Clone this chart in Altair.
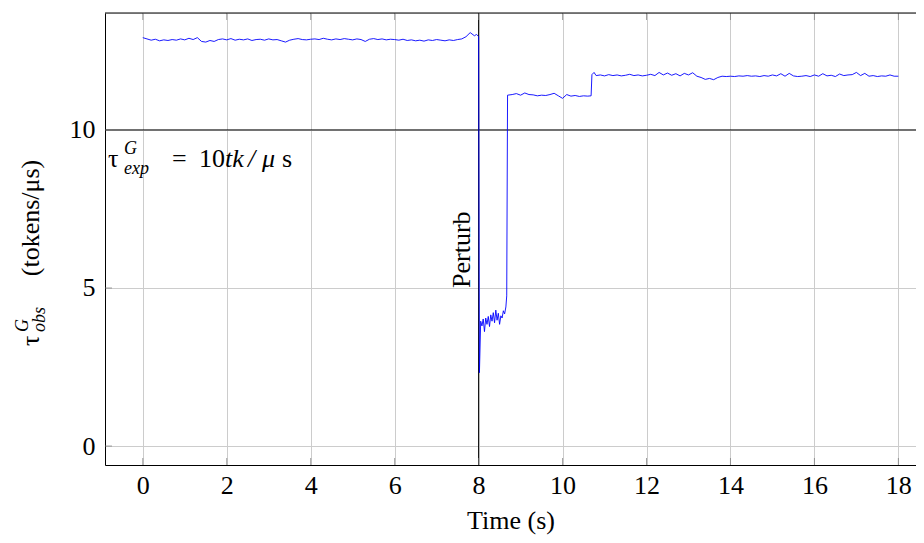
import altair as alt
import pandas as pd

# ---------------- data ----------------
time_s = [
    0.0, 0.1, 0.2, 0.3, 0.4, 0.5, 0.6, 0.7, 0.8, 0.9,
    1.0, 1.1, 1.2, 1.3, 1.4, 1.5, 1.6, 1.7, 1.8, 1.9,
    2.0, 2.1, 2.2, 2.3, 2.4, 2.5, 2.6, 2.7, 2.8, 2.9,
    3.0, 3.1, 3.2, 3.3, 3.4, 3.5, 3.6, 3.7, 3.8, 3.9,
    4.0, 4.1, 4.2, 4.3, 4.4, 4.5, 4.6, 4.7, 4.8, 4.9,
    5.0, 5.1, 5.2, 5.3, 5.4, 5.5, 5.6, 5.7, 5.8, 5.9,
    6.0, 6.1, 6.2, 6.3, 6.4, 6.5, 6.6, 6.7, 6.8, 6.9,
    7.0, 7.1, 7.2, 7.3, 7.4, 7.5, 7.6, 7.7, 7.8, 7.9,
    7.95, 8.0,
    8.02, 8.05, 8.08, 8.11, 8.14, 8.17, 8.20, 8.23, 8.26, 8.29,
    8.32, 8.35, 8.38, 8.41, 8.44, 8.47, 8.50, 8.53, 8.56, 8.59,
    8.62, 8.65, 8.67, 8.69,
    8.8, 8.9, 9.0, 9.1, 9.2, 9.3, 9.4, 9.5, 9.6, 9.7,
    9.8, 9.9, 10.0, 10.1, 10.2, 10.3, 10.4, 10.5, 10.6, 10.68,
    10.70, 10.75, 10.8, 10.9,
    11.0, 11.1, 11.2, 11.3, 11.4, 11.5, 11.6, 11.7, 11.8, 11.9,
    12.0, 12.1, 12.2, 12.3, 12.4, 12.5, 12.6, 12.7, 12.8, 12.9,
    13.0, 13.1, 13.2, 13.3, 13.4, 13.5, 13.6, 13.7, 13.8, 13.9,
    14.0, 14.1, 14.2, 14.3, 14.4, 14.5, 14.6, 14.7, 14.8, 14.9,
    15.0, 15.1, 15.2, 15.3, 15.4, 15.5, 15.6, 15.7, 15.8, 15.9,
    16.0, 16.1, 16.2, 16.3, 16.4, 16.5, 16.6, 16.7, 16.8, 16.9,
    17.0, 17.1, 17.2, 17.3, 17.4, 17.5, 17.6, 17.7, 17.8, 17.9,
    18.0,
]

tau_obs = [
    12.92, 12.88, 12.84, 12.87, 12.82, 12.85, 12.83, 12.86, 12.84, 12.88,
    12.85, 12.90, 12.86, 12.92, 12.80, 12.78, 12.83, 12.80, 12.86, 12.88,
    12.85, 12.89, 12.84, 12.87, 12.85, 12.88, 12.83, 12.86, 12.87, 12.84,
    12.88, 12.85, 12.86, 12.82, 12.78, 12.84, 12.87, 12.89, 12.86, 12.85,
    12.87, 12.88, 12.86, 12.90, 12.87, 12.85, 12.88, 12.86, 12.89, 12.87,
    12.85, 12.88, 12.86, 12.80, 12.87, 12.89, 12.86, 12.88, 12.85, 12.87,
    12.86, 12.84, 12.87, 12.83, 12.85, 12.82, 12.84, 12.81, 12.85, 12.83,
    12.86, 12.84, 12.82, 12.85, 12.83, 12.86, 12.88, 12.95, 13.08, 12.98,
    13.02, 12.96,
    2.32, 3.95, 3.80, 4.02, 3.62, 4.05, 3.85, 4.10, 3.78, 4.15,
    3.95, 4.22, 3.90, 4.30, 3.98, 4.20, 3.85, 4.12, 4.05, 4.28,
    4.18, 4.40, 4.75, 11.10,
    11.12, 11.15, 11.10, 11.17, 11.12, 11.11, 11.08, 11.10, 11.09, 11.12,
    11.16, 11.08, 11.00, 11.12, 11.07, 11.09, 11.06, 11.08, 11.07, 11.08,
    11.75, 11.82, 11.72, 11.74,
    11.71, 11.75, 11.72, 11.74, 11.71, 11.73, 11.76, 11.72, 11.74, 11.71,
    11.73, 11.76, 11.72, 11.82, 11.74, 11.80, 11.73, 11.78, 11.71, 11.79,
    11.74, 11.81, 11.70, 11.66, 11.60, 11.63, 11.59, 11.66, 11.70, 11.69,
    11.70, 11.69, 11.71, 11.70, 11.72, 11.70, 11.71, 11.69, 11.72, 11.70,
    11.74, 11.71, 11.78, 11.70, 11.79, 11.71, 11.69, 11.70, 11.72, 11.69,
    11.74, 11.70, 11.78, 11.71, 11.73, 11.69, 11.77, 11.72, 11.74, 11.75,
    11.82, 11.72, 11.79, 11.70, 11.72, 11.69, 11.71, 11.70, 11.74, 11.70,
    11.70,
]

x_ticks = [0, 2, 4, 6, 8, 10, 12, 14, 16, 18]
y_ticks = [0, 5, 10]
tau_expected = [10]
perturb_time = [8]

FONT = "Liberation Serif, DejaVu Serif, serif"
FS = 26
df = pd.DataFrame({"t": time_s, "tau": tau_obs})

x_scale = alt.Scale(domain=[-0.9, 18.42], nice=False, zero=False)
y_scale = alt.Scale(domain=[-0.6, 13.7], nice=False, zero=False)

x_axis = alt.Axis(values=x_ticks, title="Time (s)", grid=True, gridColor="#cccccc",
                  ticks=False, domainColor="black", labelFont=FONT, labelFontSize=FS,
                  labelColor="black", labelPadding=7, titleFont=FONT, titleFontSize=FS,
                  titleFontWeight="normal", titleColor="black", titlePadding=9,
                  labelFlush=False)
y_axis = alt.Axis(values=y_ticks, title=None, grid=True, gridColor="#cccccc",
                  ticks=False, domainColor="black", labelFont=FONT, labelFontSize=FS,
                  labelColor="black", labelPadding=10, labelFlush=False,
                  labelBaseline="middle")

line = alt.Chart(df).mark_line(color="#0000ff", strokeWidth=0.9).encode(
    x=alt.X("t:Q", scale=x_scale, axis=x_axis),
    y=alt.Y("tau:Q", scale=y_scale, axis=y_axis),
)

hline = alt.Chart(pd.DataFrame({"tau": tau_expected})).mark_rule(
    color="black", strokeWidth=1).encode(
    y=alt.Y("tau:Q", scale=y_scale, axis=y_axis))

vline = alt.Chart(pd.DataFrame({"t": perturb_time})).mark_rule(
    color="black", strokeWidth=1).encode(
    x=alt.X("t:Q", scale=x_scale, axis=x_axis))

top_frame = alt.Chart(pd.DataFrame({"a": [0]})).mark_rule(
    color="black", strokeWidth=1).encode(y=alt.value(0))

# pgfplots-style inner tick marks
xt_df = pd.DataFrame({"t": x_ticks})
yt_df = pd.DataFrame({"tau": y_ticks})
xticks_bottom = alt.Chart(xt_df).mark_tick(
    orient="vertical", color="#777777", size=7, thickness=1).encode(
    x=alt.X("t:Q", scale=x_scale, axis=x_axis), y=alt.value(448.5))
xticks_top = alt.Chart(xt_df).mark_tick(
    orient="vertical", color="#777777", size=7, thickness=1).encode(
    x=alt.X("t:Q", scale=x_scale, axis=x_axis), y=alt.value(3.5))
yticks_left = alt.Chart(yt_df).mark_tick(
    orient="horizontal", color="#777777", size=7, thickness=1).encode(
    y=alt.Y("tau:Q", scale=y_scale, axis=y_axis), x=alt.value(3.5))

one = pd.DataFrame({"a": [0]})


def label(text, x, y, size=FS, italic=False, angle=0, align="left", baseline="alphabetic"):
    kw = dict(text=text, font=FONT, fontSize=size, color="black", align=align,
              baseline=baseline)
    if italic:
        kw["fontStyle"] = "italic"
    if angle:
        kw["angle"] = angle
    return alt.Chart(one).mark_text(**kw).encode(x=alt.value(x), y=alt.value(y))


perturb = alt.Chart(pd.DataFrame({"t": perturb_time, "tau": [5]})).mark_text(
    text="Perturb", font=FONT, fontSize=FS, color="black", angle=270,
    align="left", baseline="alphabetic", dy=-9).encode(
    x=alt.X("t:Q", scale=x_scale, axis=x_axis),
    y=alt.Y("tau:Q", scale=y_scale, axis=y_axis))

# annotation tau^G_exp = 10 tk/us
ann = [
    label("τ", 3, 154),
    label("G", 19, 141, size=18, italic=True),
    label("exp", 19, 161, size=18, italic=True),
    label("=", 67, 154),
    label("10", 94, 154),
    label("tk", 120, 154, italic=True),
    label("/", 143, 154, italic=True),
    label("μ", 157, 154, italic=True),
    label("s", 177, 154),
]

# y-axis title tau^G_obs (tokens/us), rotated
ytitle = [
    label("τ", -66, 333, angle=270),
    label("G", -77, 319, size=18, italic=True, angle=270),
    label("obs", -60, 319, size=18, italic=True, angle=270),
    label("(tokens/μs)", -66, 205, angle=270, align="center"),
]

chart = alt.layer(hline, vline, xticks_bottom, xticks_top, yticks_left, line,
                  top_frame, perturb, *ann, *ytitle).properties(
    width=811, height=452,
    autosize=alt.AutoSizeParams(type="none"),
    padding={"left": 97, "top": 5, "right": 0, "bottom": 75},
).configure_view(stroke=None).configure(background="white")

chart.save("out.html", embed_options={"renderer": "svg", "actions": False})
